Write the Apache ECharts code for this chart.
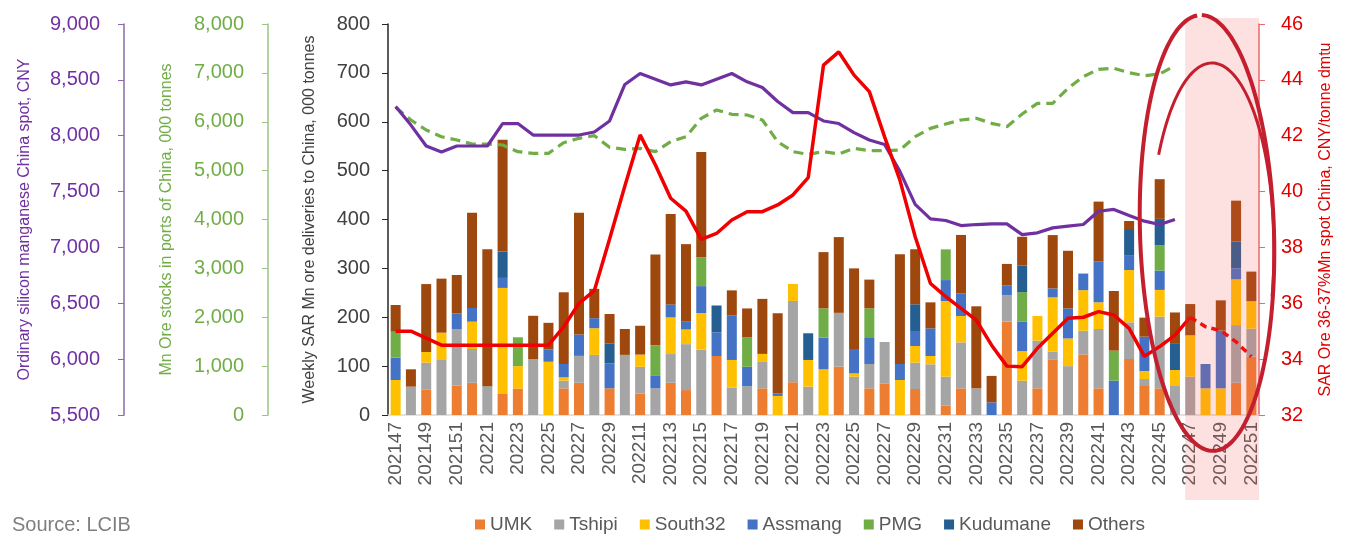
<!DOCTYPE html>
<html><head><meta charset="utf-8">
<script src="https://cdn.jsdelivr.net/npm/echarts@6/dist/echarts.min.js"></script>
<style>html,body{margin:0;padding:0;background:#fff}#c{width:1346px;height:554px}</style>
</head><body><div id="c"></div>
<script>
const weeks = ['202147','202148','202149','202150','202151','202152','20221','20222','20223','20224','20225','20226','20227','20228','20229','202210','202211','202212','202213','202214','202215','202216','202217','202218','202219','202220','202221','202222','202223','202224','202225','202226','202227','202228','202229','202230','202231','202232','202233','202234','202235','202236','202237','202238','202239','202240','202241','202242','202243','202244','202245','202246','202247','202248','202249','202250','202251'];

const umk      = [0,0,52.5,0,60,66,0,43,54,0, 0,54.6,66,0,54.6,0,44,0,66,51, 0,120.7,0,0,54.6,0,67,0,0,99, 0,54.6,64.8,0,53.2,0,19,54.6,0,0, 191,0,54.6,114,0,124,54.6,0,114.6,59.3, 54.6,0,0,0,0,66,119.4];
const tshipi   = [0,58,54.6,112.5,116,69,59,0,0,114, 0,15.7,55,123,0,123,54.6,54.6,58.7,94, 133.7,0,56,59,54,0,166.4,58,0,110, 78.4,49.8,84.6,0,54,103.7,59.3,94,54.6,0, 54.6,70,97.5,15.7,100,48.4,121.4,0,75,14.3, 146.7,59.3,78.4,0,0,118,57.3];
const south32  = [71.6,0,21.8,56,0,56,0,217,46,0, 109,6.8,0,54.6,0,0,25,0,75,30, 75,0,56.6,0,16.4,39,34.8,54.6,93.5,0, 6.8,0,0,71.6,34,17,154.8,54,0,0, 0,60.7,50.5,111,56.6,83,54.6,0,107,16.4, 54.6,32.7,84.6,54.6,54.6,93.5,56];
const assmang  = [45.7,0,0,0,32,28,0,20.5,0,0, 25,27.3,43.7,20.5,51,0,0,26.6,26.6,17, 55,48.4,91.4,39.6,0,5.5,0,0,64.8,0, 49.8,53.2,0,32.7,30.7,56.6,43,46.4,0,26, 19.8,60,0,18.4,61.4,34,83.2,70.3,29.3,70.3, 39.6,0,0,49.8,118,22.5,0];
const pmg      = [53.2,0,0,0,0,0,0,0,59,0, 0,0,0,0,0,0,0,61.4,0,0, 59,0,0,60.7,0,0,0,0,60,0, 0,60.7,0,0,0,0,62.8,0,0,0, 0,60.7,0,0,0,0,0,61.4,0,0, 51.8,0,0,0,0,0,0];
const kudumane = [0,0,0,0,0,0,0,54,0,0, 0,0,0,0,41,0,0,0,0,0, 0,55,0,0,0,0,0,54.6,0,0, 0,0,0,0,54.6,0,0,0,0,0, 0,54.6,0,0,0,0,0,0,54.6,0, 54,55,0,0,0,54.6,0];
const others   = [54.6,35.5,139,110.5,78.4,195,280,228.5,0,89, 54.6,146.7,249,60,60,53,59,186,185,157.6, 215.6,0,51,58.7,112.6,163.7,0,0,115,155, 165,58.7,0,224.4,112.6,53.2,0,119.4,167.8,54, 43.7,58.7,0,109,118,0,122.8,122,16.4,38.9, 81.2,62.8,64,0,62,84,60.7];

const siMnPrice = [8261,8095,7908,7854,7908,7908,7908,8109,8109,8006, 8006,8006,8006,8033,8132,8459,8557,8506,8455,8482, 8455,8506,8557,8482,8432,8306,8207,8207,8132,8109, 8028,7962,7922,7681,7385,7256,7241,7196,7205,7211, 7211,7115,7131,7175,7190,7205,7324,7340,7286,7235, 7205,7250,null,null,null,null,null];
const portStocks = [6296,6036,5831,5694,5627,5545,5545,5524,5388,5354, 5354,5572,5661,5715,5477,5436,5456,5388,5592,5694, 6070,6240,6152,6138,6036,5592,5388,5334,5388,5340, 5456,5408,5408,5422,5694,5865,5954,6036,6070,5968, 5899,6159,6377,6377,6684,6922,7073,7093,7004,6942, 6977,7150,null,null,null,null,null];
const sarSpot = [35.0,35.0,34.75,34.5,34.5,34.5,34.5,34.5,34.5,34.5, 34.5,35.16,36.0,36.45,38.3,40.2,42.03,40.95,39.76,39.3, 38.29,38.5,38.98,39.28,39.28,39.52,39.88,40.5,44.53,45.0, 44.17,43.58,41.96,40.41,38.38,36.71,36.24,35.82,35.4,34.5, 33.75,33.73,34.39,34.93,35.46,35.5,35.7,35.58,35.1,34.1, 34.45,34.86,35.5,null,null,null,null];
const sarSpotForecast = [null,null,null,null,null,null,null,null,null,null, null,null,null,null,null,null,null,null,null,null, null,null,null,null,null,null,null,null,null,null, null,null,null,null,null,null,null,null,null,null, null,null,null,null,null,null,null,null,null,null, null,null,35.5,35.16,35.02,34.62,34.09];

const barNames = ['UMK','Tshipi','South32','Assmang','PMG','Kudumane','Others'];
const barColors = ['#ED7D31','#A5A5A5','#FFC000','#4472C4','#70AD47','#255E91','#9E480E'];
const barData = [umk, tshipi, south32, assmang, pmg, kudumane, others];

const FONT = '"Liberation Sans", Arial, sans-serif';
const chart = echarts.init(document.getElementById('c'), null, {renderer: 'canvas'});

const series = barNames.map((n, k) => ({
  name: n, type: 'bar', stack: 'del', yAxisIndex: 0, barWidth: 10,
  itemStyle: {color: barColors[k]}, data: barData[k], z: 2
}));
series.push({name: 'Mn ore stocks', type: 'line', yAxisIndex: 2, data: portStocks, symbol: 'none',
  lineStyle: {color: '#70AD47', width: 3.2, type: [10, 6]}, z: 4});
series.push({name: 'SiMn price', type: 'line', yAxisIndex: 1, data: siMnPrice, symbol: 'none',
  lineStyle: {color: '#7030A0', width: 3.2}, z: 5});
series.push({name: 'SAR spot', type: 'line', yAxisIndex: 3, data: sarSpot, symbol: 'none',
  lineStyle: {color: '#F00000', width: 3.5}, z: 6});
series.push({name: 'SAR spot f', type: 'line', yAxisIndex: 3, data: sarSpotForecast, symbol: 'none',
  lineStyle: {color: '#F00000', width: 3.5, type: [7, 5]}, z: 6});

function yAx(o) {
  return Object.assign({
    type: 'value', splitLine: {show: false}, nameLocation: 'middle', nameRotate: 90
  }, o);
}

chart.setOption({
  animation: false,
  textStyle: {fontFamily: FONT},
  grid: {left: 388, right: 87, top: 24, bottom: 139},
  legend: {
    data: barNames, left: 470, top: 510, itemWidth: 10, itemHeight: 10, itemGap: 22, icon: 'rect',
    textStyle: {fontSize: 19, color: '#595959', fontFamily: FONT}
  },
  xAxis: {
    type: 'category', data: weeks,
    axisLine: {lineStyle: {color: '#d9d9d9', width: 1.5}},
    axisTick: {show: false},
    axisLabel: {rotate: 90, interval: 1, color: '#595959', fontSize: 19, fontFamily: FONT, margin: 7}
  },
  yAxis: [
    yAx({min: 0, max: 800, interval: 100, position: 'left',
      axisLine: {show: true, lineStyle: {color: '#262626', width: 1.5}},
      axisTick: {show: true, length: 6, lineStyle: {color: '#262626'}},
      axisLabel: {color: '#404040', fontSize: 20, margin: 18, fontFamily: FONT},
      name: 'Weekly SAR Mn ore deliveries to China, 000 tonnes', nameGap: 70,
      nameTextStyle: {color: '#404040', fontSize: 16, fontFamily: FONT}}),
    yAx({min: 5500, max: 9000, interval: 500, position: 'left', offset: 264,
      axisLine: {show: true, lineStyle: {color: '#8a6aa8', width: 1.5}},
      axisTick: {show: true, length: 6, lineStyle: {color: '#8a6aa8'}},
      axisLabel: {color: '#7030A0', fontSize: 20, margin: 24, fontFamily: FONT,
        formatter: v => v.toLocaleString('en-US')},
      name: 'Ordinary silicon manganese China spot, CNY', nameGap: 91,
      nameTextStyle: {color: '#7030A0', fontSize: 16, fontFamily: FONT}}),
    yAx({min: 0, max: 8000, interval: 1000, position: 'left', offset: 120,
      axisLine: {show: true, lineStyle: {color: '#9cc383', width: 1.5}},
      axisTick: {show: true, length: 6, lineStyle: {color: '#9cc383'}},
      axisLabel: {color: '#70AD47', fontSize: 20, margin: 24, fontFamily: FONT,
        formatter: v => v.toLocaleString('en-US')},
      name: 'Mn Ore stocks in ports of China, 000 tonnes', nameGap: 93,
      nameTextStyle: {color: '#70AD47', fontSize: 16, fontFamily: FONT}}),
    yAx({min: 32, max: 46, interval: 2, position: 'right',
      axisLine: {show: true, lineStyle: {color: '#e86a6a', width: 1.5}},
      axisTick: {show: true, length: 6, lineStyle: {color: '#e86a6a'}},
      axisLabel: {color: '#E00000', fontSize: 20, margin: 22, fontFamily: FONT},
      name: 'SAR Ore 36-37%Mn spot China, CNY/tonne dmtu', nameGap: 59,
      nameTextStyle: {color: '#E00000', fontSize: 16, fontFamily: FONT}})
  ],
  series: series
});

// annotation: pink band + hand-drawn ellipse, anchored to the category scale
const xA = chart.convertToPixel({xAxisIndex: 0}, '202247');
const xB = chart.convertToPixel({xAxisIndex: 0}, '202248');
const bw = xB - xA;
const gridRight = 1346 - 87;
const bandLeft = xA - bw * 0.33;
function ellipsePts(cx, cy, rx, ry, t0, t1, n, tilt) {
  const pts = [];
  const c = Math.cos(tilt), s = Math.sin(tilt);
  for (let i = 0; i <= n; i++) {
    const t = t0 + (t1 - t0) * i / n;
    const x = rx * Math.cos(t), y = -ry * Math.sin(t);
    pts.push([cx + x * c - y * s, cy + x * s + y * c]);
  }
  return pts;
}
const ecx = xB + 1.5;
chart.setOption({
  graphic: [
    {type: 'rect', z: 50, silent: true,
      shape: {x: bandLeft, y: 18, width: gridRight - bandLeft, height: 482},
      style: {fill: 'rgba(245,90,90,0.18)'}},
    {type: 'text', left: 12, top: 515, z: 50,
      style: {text: 'Source: LCIB', fill: '#7f7f7f', fontSize: 20, fontFamily: FONT}},
    {type: 'polyline', z: 60, silent: true,
      shape: {points: ellipsePts(ecx, 233, 67, 218, Math.PI / 2 + 0.05, Math.PI / 2 + 2 * Math.PI - 0.02, 140, -0.03)},
      style: {stroke: '#c41f2f', lineWidth: 4, fill: null}},
    {type: 'polyline', z: 60, silent: true,
      shape: {points: ellipsePts(ecx + 5, 250, 62, 187, Math.PI * 0.83, -0.25, 80, 0)},
      style: {stroke: '#c41f2f', lineWidth: 3, fill: null}}
  ]
});
</script>
</body></html>
